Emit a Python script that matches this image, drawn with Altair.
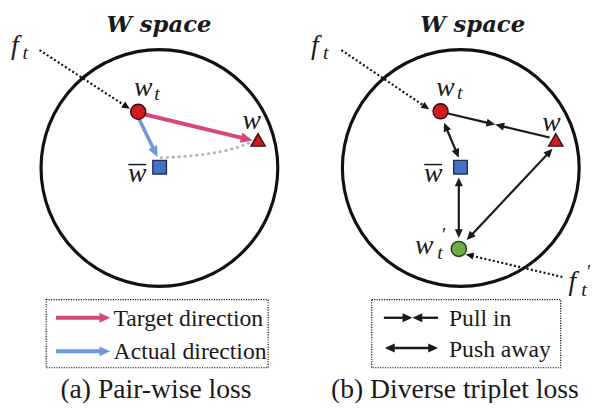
import math
import altair as alt
import pandas as pd

# ---------------- data (pixel units) ----------------
panel_titles = ["W space", "W space"]
title_x = [161, 479]
title_y = [29.5, 29.5]

space_cx = [161.5, 467.0]
space_cy = [167.5, 167.5]
space_diam = [240, 240]

# embedded points
wt_x = [140.0, 446.5]
wt_y = [110.5, 110.0]
w_x = [261.5, 563.3]
w_y = [139.0, 139.0]
wbar_x = [161.7, 466.7]
wbar_y = [166.7, 166.7]
wtp_x = [465.0]
wtp_y = [249.5]

# dotted "input" arrows (tail -> tip)
feed_x1 = [40, 346, 570]
feed_y1 = [48, 48, 278]
feed_x2 = [131.5, 435, 472]
feed_y2 = [107.5, 108, 255]

# pair-wise loss arrows
target_x1, target_y1, target_x2, target_y2 = [146], [113], [256], [139.5]
actual_x1, actual_y1, actual_x2, actual_y2 = [141], [118], [159.5], [156.5]
arc_x = [162, 190, 215, 236, 254]
arc_y = [157, 155.5, 152.5, 148, 141.5]

# triplet loss arrows
pull_x1 = [453, 557]
pull_y1 = [112, 136.5]
pull_x2 = [502, 502]
pull_y2 = [123.5, 123.5]
push_x1 = [450, 465, 560]
push_y1 = [121.5, 177, 148]
push_x2 = [465, 465, 473]
push_y2 = [157, 238.5, 240.5]

# math labels
main_txt = ["f", "w", "w", "w", "f", "w", "w", "w", "w", "f"]
main_x = [15, 145, 255, 139, 319, 451.5, 559, 439, 430, 580]
main_y = [52, 95, 128, 182, 52, 94, 130, 182, 255, 291]
sub_txt = ["t", "t", "t", "t", "t", "t", "′", "′"]
sub_x = [25.5, 159, 330, 466, 446, 592, 449, 596]
sub_y = [57, 99, 57, 98, 260, 297, 241, 279]
bar_x = [139, 439]
bar_y = [164, 164]

# legends
box_x1 = [46.7, 376.7]
box_x2 = [271.7, 568.3]
box_y1 = [301, 301]
box_y2 = [370, 370]
legend_labels = ["Target direction", "Actual direction", "Pull in", "Push away"]
legend_x = [115, 115, 455, 455]
legend_y = [328, 361, 328, 359]
leg_target = ([56.7], [319.3], [111.7], [319.3])
leg_actual = ([56.7], [353.3], [111.7], [353.3])
leg_pull = ([389, 444], [319.3, 319.3], [418, 418], [319.3, 319.3])
leg_push = ([390], [350], [444], [350])

captions = ["(a) Pair-wise loss", "(b) Diverse triplet loss"]
caption_x = [158, 461]
caption_y = [401, 401]

# ---------------- helpers ----------------
W, H = 590, 395
xs = alt.Scale(domain=[8, 8 + W], nice=False, zero=False)
ys = alt.Scale(domain=[8, 8 + H], nice=False, zero=False, reverse=True)
X = lambda f="x": alt.X(f"{f}:Q", scale=xs, axis=None)
Y = lambda f="y": alt.Y(f"{f}:Q", scale=ys, axis=None)

HEAD = "M0,0L-0.45,1L0.45,1Z"


def arrow_parts(x1, y1, x2, y2, head_len, both=False, shrink=0.75):
    shafts, heads = [], []
    for a, b, c, d in zip(x1, y1, x2, y2):
        dx, dy = c - a, d - b
        L = math.hypot(dx, dy)
        ux, uy = dx / L, dy / L
        ang = (math.degrees(math.atan2(ux, -uy)) + 360) % 360
        sx1, sy1 = a, b
        sx2, sy2 = c - ux * head_len * shrink, d - uy * head_len * shrink
        heads.append(dict(x=c, y=d, angle=ang))
        if both:
            sx1, sy1 = a + ux * head_len * shrink, b + uy * head_len * shrink
            heads.append(dict(x=a, y=b, angle=(ang + 180) % 360))
        shafts.append(dict(x=sx1, y=sy1, x2=sx2, y2=sy2))
    return pd.DataFrame(shafts), pd.DataFrame(heads)


def arrow_layers(coords, color, width, head_len, both=False, dash=None, shrink=0.75):
    s, h = arrow_parts(*coords, head_len, both=both, shrink=shrink)
    rule_kw = dict(color=color, strokeWidth=width, strokeCap="butt")
    if dash:
        rule_kw["strokeDash"] = dash
    shaft = alt.Chart(s).mark_rule(**rule_kw).encode(
        x=X("x"), y=Y("y"), x2="x2:Q", y2="y2:Q")
    head = alt.Chart(h).mark_point(shape=HEAD, filled=True, color=color, opacity=1,
                                   size=(2 * head_len) ** 2, strokeWidth=0).encode(
        x=X("x"), y=Y("y"), angle=alt.Angle("angle:Q", scale=None))
    return [shaft, head]


layers = []

# W space circles
circ = pd.DataFrame(dict(x=space_cx, y=space_cy, s=[d * d for d in space_diam]))
layers.append(alt.Chart(circ).mark_point(shape="circle", filled=False, color="#111111",
                                         strokeWidth=3.2, opacity=1).encode(
    x=X(), y=Y(), size=alt.Size("s:Q", scale=None)))

# titles
tdf = pd.DataFrame(dict(t=panel_titles, x=title_x, y=title_y))
layers.append(alt.Chart(tdf).mark_text(font="DejaVu Serif", fontSize=23, fontWeight="bold",
                                       fontStyle="italic", color="#1a1a1a",
                                       baseline="alphabetic").encode(
    x=X(), y=Y(), text="t:N"))

# gray dotted arc
adf = pd.DataFrame(dict(x=arc_x, y=arc_y, o=list(range(len(arc_x)))))
layers.append(alt.Chart(adf).mark_line(color="#b3b3b3", strokeWidth=2.6, strokeDash=[3, 3],
                                       interpolate="monotone").encode(
    x=X(), y=Y(), order="o:Q"))

# dotted input arrows
layers += arrow_layers((feed_x1, feed_y1, feed_x2, feed_y2), "#111111", 2.2, 8,
                       dash=[2, 2.4], shrink=0.9)
# pair-wise arrows
layers += arrow_layers((target_x1, target_y1, target_x2, target_y2), "#d6487b", 4, 12)
layers += arrow_layers((actual_x1, actual_y1, actual_x2, actual_y2), "#7097d6", 3.6, 11)
# triplet arrows
layers += arrow_layers((pull_x1, pull_y1, pull_x2, pull_y2), "#1a1a1a", 2.2, 9)
layers += arrow_layers((push_x1, push_y1, push_x2, push_y2), "#1a1a1a", 2.2, 9, both=True)

# markers
def marker(xv, yv, shape, size, fill, stroke):
    df = pd.DataFrame(dict(x=xv, y=yv))
    return alt.Chart(df).mark_point(shape=shape, filled=True, fill=fill, stroke=stroke,
                                    strokeWidth=1.4, size=size, opacity=1).encode(x=X(), y=Y())

layers.append(marker(wbar_x, wbar_y, "square", 190, "#4472c4", "#1f2f55"))
layers.append(marker(w_x, w_y, "triangle-up", 210, "#cc1c24", "#3a0a0a"))
layers.append(marker(wt_x, wt_y, "circle", 235, "#cc1c24", "#3a0a0a"))
layers.append(marker(wtp_x, wtp_y, "circle", 235, "#6fae45", "#1f3a12"))

# math labels
mdf = pd.DataFrame(dict(t=main_txt, x=main_x, y=main_y))
layers.append(alt.Chart(mdf).mark_text(font="Liberation Serif", fontSize=28, fontStyle="italic",
                                       color="#1a1a1a", baseline="alphabetic").encode(
    x=X(), y=Y(), text="t:N"))
sdf = pd.DataFrame(dict(t=sub_txt, x=sub_x, y=sub_y))
layers.append(alt.Chart(sdf).mark_text(font="Liberation Serif", fontSize=20, fontStyle="italic",
                                       color="#1a1a1a", baseline="alphabetic").encode(
    x=X(), y=Y(), text="t:N"))
bdf = pd.DataFrame(dict(x=[v - 9 for v in bar_x], x2=[v + 9 for v in bar_x], y=bar_y))
layers.append(alt.Chart(bdf).mark_rule(color="#1a1a1a", strokeWidth=1.5).encode(
    x=X(), x2="x2:Q", y=Y()))

# legend boxes
boxdf = pd.DataFrame(dict(x=box_x1, x2=box_x2, y=box_y1, y2=box_y2))
layers.append(alt.Chart(boxdf).mark_rect(fillOpacity=0, stroke="#111111", strokeWidth=1.2,
                                         strokeDash=[1.2, 1.3]).encode(
    x=X(), x2="x2:Q", y=Y(), y2="y2:Q"))
layers += arrow_layers(leg_target, "#d6487b", 4, 11)
layers += arrow_layers(leg_actual, "#7097d6", 4, 11)
layers += arrow_layers(leg_pull, "#1a1a1a", 2.4, 10)
layers += arrow_layers(leg_push, "#1a1a1a", 2.4, 10, both=True)

ldf = pd.DataFrame(dict(t=legend_labels, x=legend_x, y=legend_y))
layers.append(alt.Chart(ldf).mark_text(font="Liberation Serif", fontSize=24, align="left",
                                       color="#1a1a1a", baseline="alphabetic").encode(
    x=X(), y=Y(), text="t:N"))

cdf = pd.DataFrame(dict(t=captions, x=caption_x, y=caption_y))
layers.append(alt.Chart(cdf).mark_text(font="Liberation Serif", fontSize=28, align="center",
                                       color="#1a1a1a", baseline="alphabetic").encode(
    x=X(), y=Y(), text="t:N"))

chart = alt.layer(*layers).properties(
    width=W, height=H, padding=0, autosize=alt.AutoSizeParams(type="none"),
    background="white",
).configure_view(stroke=None)

chart.save("out.html", embed_options={"renderer": "svg", "actions": False})
